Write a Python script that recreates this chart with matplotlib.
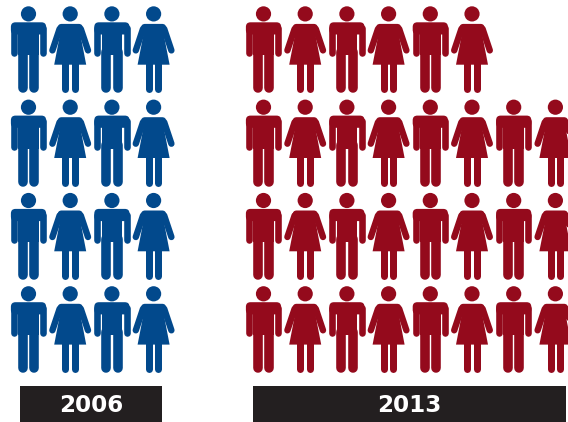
import matplotlib
matplotlib.use('Agg')
import matplotlib.pyplot as plt
from matplotlib.patches import Circle, Polygon, FancyBboxPatch

plt.rcParams['font.family'] = ['DejaVu Sans']

# Labels and number of people per row, top row first
years = ['2006', '2013']
row_counts_2006 = [4, 4, 4, 4]
row_counts_2013 = [6, 8, 8, 8]

BLUE = '#02498c'
RED = '#940a1c'
DARK = '#231f20'

# Figure is laid out in pixels
W, H = 568, 422
PX = 0.72  # one pixel in points at dpi 100

fig = plt.figure(figsize=(W / 100, H / 100), dpi=100)
ax = fig.add_axes([0, 0, 1, 1])
ax.set_xlim(0, W)
ax.set_ylim(H, 0)
ax.axis('off')


def limb(x, y, width, color):
    ax.plot(x, y, color=color, lw=width * PX, solid_capstyle='round', zorder=2)


def draw_man(cx, cy, color):
    ax.add_patch(Circle((cx, cy), 7.6, fc=color, ec='none'))
    # shoulders
    ax.add_patch(FancyBboxPatch((cx - 13, cy + 13), 26, 3, boxstyle='round,pad=4.6',
                                fc=color, ec='none'))
    # torso
    ax.add_patch(Polygon([(cx - 10.4, cy + 10), (cx + 10.4, cy + 10),
                          (cx + 10.4, cy + 41.5), (cx - 10.4, cy + 41.5)],
                         fc=color, ec='none'))
    # arms
    limb([cx - 14.6, cx - 14.6], [cy + 14, cy + 39.5], 6.6, color)
    limb([cx + 14.6, cx + 14.6], [cy + 14, cy + 39.5], 6.6, color)
    # legs
    limb([cx - 5.6, cx - 5.6], [cy + 38, cy + 74.5], 9.6, color)
    limb([cx + 5.6, cx + 5.6], [cy + 38, cy + 74.5], 9.6, color)


def draw_woman(cx, cy, color):
    ax.add_patch(Circle((cx, cy), 7.6, fc=color, ec='none'))
    # shoulders
    ax.add_patch(FancyBboxPatch((cx - 8.5, cy + 14), 17, 3, boxstyle='round,pad=4',
                                fc=color, ec='none'))
    # dress
    ax.add_patch(Polygon([(cx - 8.5, cy + 12), (cx + 8.5, cy + 12),
                          (cx + 16, cy + 50.8), (cx - 16, cy + 50.8)],
                         fc=color, ec='none'))
    # arms
    limb([cx - 10.6, cx - 17.8], [cy + 15, cy + 36.5], 6.4, color)
    limb([cx + 10.6, cx + 17.8], [cy + 15, cy + 36.5], 6.4, color)
    # legs
    limb([cx - 4.9, cx - 4.9], [cy + 48, cy + 75.4], 7, color)
    limb([cx + 4.6, cx + 4.6], [cy + 48, cy + 75.4], 7, color)


def draw_group(counts, x0, color):
    for r, n in enumerate(counts):
        for c in range(n):
            cx = x0 + c * 41.7
            cy = 13.9 + r * 93.3
            if c % 2 == 0:
                draw_man(cx, cy, color)
            else:
                draw_woman(cx, cy, color)


draw_group(row_counts_2006, 28.5, BLUE)
draw_group(row_counts_2013, 263.5, RED)

# Year bars along the bottom
bars = [(20, 162), (253, 566)]
for label, (x1, x2) in zip(years, bars):
    ax.fill_between([x1, x2], 386, H, color=DARK, lw=0)
    ax.text((x1 + x2) / 2, 405, label, color='white', fontsize=16.6,
            fontweight='bold', ha='center', va='center')

fig.savefig('out.png', dpi=100)
